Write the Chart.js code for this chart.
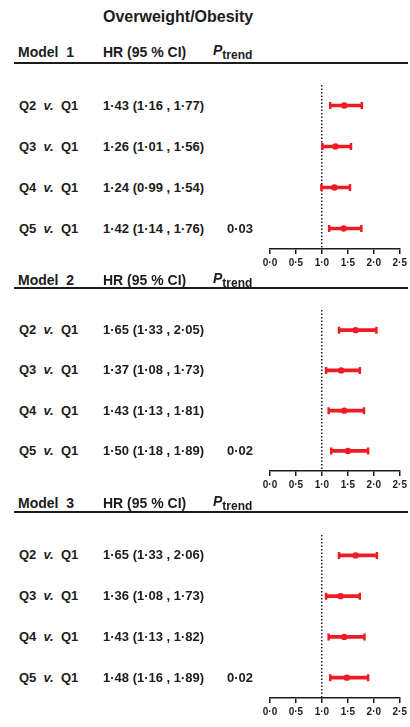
<!DOCTYPE html>
<html><head><meta charset="utf-8">
<script src="https://cdn.jsdelivr.net/npm/chart.js@4.4.1/dist/chart.umd.min.js"></script>
<style>
html,body{margin:0;padding:0;background:#fff}
body{width:410px;height:727px;position:relative;overflow:hidden;font-family:"Liberation Sans",Arial,sans-serif;color:#1c1c1c;font-weight:bold}
.t{position:absolute;white-space:pre;line-height:1;transform:translateY(-50%)}
.rule{position:absolute;left:14px;width:394px;height:2px;background:#1c1c1c}
.box{position:absolute;left:250px;width:160px}
sub{font-size:12px;vertical-align:-4px;font-style:normal}
</style></head><body>
<script>
// ---- data ----
const title = 'Overweight/Obesity';
const categories = ['Q2', 'Q3', 'Q4', 'Q5'];
const modelNames = ['Model  1', 'Model  2', 'Model  3'];
const hrM1 = [1.43, 1.26, 1.24, 1.42];
const loM1 = [1.16, 1.01, 0.99, 1.14];
const hiM1 = [1.77, 1.56, 1.54, 1.76];
const hrM2 = [1.65, 1.37, 1.43, 1.50];
const loM2 = [1.33, 1.08, 1.13, 1.18];
const hiM2 = [2.05, 1.73, 1.81, 1.89];
const hrM3 = [1.65, 1.36, 1.43, 1.48];
const loM3 = [1.33, 1.08, 1.13, 1.16];
const hiM3 = [2.06, 1.73, 1.82, 1.89];
const pTrend = ['0·03', '0·02', '0·02'];
const xTickLabels = ['0·0', '0·5', '1·0', '1·5', '2·0', '2·5'];

// ---- layout ----
const RED = '#ee1c24';
const INK = '#1c1c1c';
const layout = [
  {head: 52, rule: 62, top: 75, area: 167},
  {head: 280, rule: 287, top: 300, area: 164},
  {head: 503, rule: 511, top: 525, area: 166}
];
const models = [
  {hr: hrM1, lo: loM1, hi: hiM1},
  {hr: hrM2, lo: loM2, hi: hiM2},
  {hr: hrM3, lo: loM3, hi: hiM3}
];
const fmt = v => v.toFixed(2).replace('.', '·');

function addText(html, x, y, size, extra) {
  const d = document.createElement('div');
  d.className = 't';
  d.style.left = x + 'px';
  d.style.top = y + 'px';
  d.style.fontSize = size + 'px';
  if (extra) Object.assign(d.style, extra);
  d.innerHTML = html;
  document.body.appendChild(d);
  return d;
}

addText(title, 103, 17, 16);

models.forEach((m, k) => {
  const L = layout[k];
  addText(modelNames[k], 18, L.head, 14);
  addText('HR (95 % CI)', 103, L.head, 14);
  addText('<i>P</i><sub>trend</sub>', 213, L.head, 14);
  const r = document.createElement('div');
  r.className = 'rule';
  r.style.top = L.rule + 'px';
  document.body.appendChild(r);

  const box = document.createElement('div');
  box.className = 'box';
  const padTop = 10, axisH = 20;
  box.style.top = L.top + 'px';
  box.style.height = (padTop + L.area + axisH) + 'px';
  const cv = document.createElement('canvas');
  box.appendChild(cv);
  document.body.appendChild(box);

  const caps = [];
  categories.forEach((c, i) => { caps.push({x: m.lo[i], y: c}); caps.push({x: m.hi[i], y: c}); });

  const chart = new Chart(cv, {
    type: 'bar',
    data: {
      labels: categories,
      datasets: [
        {type: 'bar', data: categories.map((c, i) => [m.lo[i], m.hi[i]]), backgroundColor: RED,
         borderWidth: 0, barThickness: 3, borderSkipped: false, indexAxis: 'y', order: 3},
        {type: 'line', data: caps, showLine: false, pointStyle: 'line', rotation: 90,
         pointRadius: 3.5, pointBorderWidth: 2.5, pointBorderColor: RED, indexAxis: 'y', order: 2},
        {type: 'line', data: categories.map((c, i) => ({x: m.hr[i], y: c})), showLine: false,
         pointStyle: 'circle', pointRadius: 3.2, pointBorderWidth: 0, pointBackgroundColor: RED,
         indexAxis: 'y', order: 1}
      ]
    },
    options: {
      indexAxis: 'y',
      responsive: true,
      maintainAspectRatio: false,
      animation: false,
      events: [],
      layout: {padding: {top: padTop, left: 20, right: 8, bottom: 0}},
      plugins: {legend: {display: false}, tooltip: {enabled: false}},
      scales: {
        x: {
          type: 'linear', min: 0, max: 2.5,
          ticks: {stepSize: 0.5, color: INK, padding: 3,
                  font: {family: '"Liberation Sans", Arial, sans-serif', size: 10, weight: 'bold'},
                  callback: (v, i) => xTickLabels[i]},
          grid: {color: c => (c.tick && Math.abs(c.tick.value - 1) < 1e-9) ? INK : 'rgba(0,0,0,0)',
                 lineWidth: 1.5, tickColor: INK, tickLength: 5, tickWidth: 1.5, tickBorderDash: []},
          border: {display: true, color: INK, width: 1.6, dash: [1.5, 2]}
        },
        y: {type: 'category', display: false}
      }
    }
  });

  const ys = chart.scales.y;
  categories.forEach((c, i) => {
    const y = L.top + ys.getPixelForValue(i) - 1;
    addText(c + '  <i>v.</i>  Q1', 19, y, 13);
    addText(fmt(m.hr[i]) + ' (' + fmt(m.lo[i]) + ' , ' + fmt(m.hi[i]) + ')', 103, y, 13);
    if (i === categories.length - 1) addText(pTrend[k], 227, y, 13);
  });
});
</script>
</body></html>
